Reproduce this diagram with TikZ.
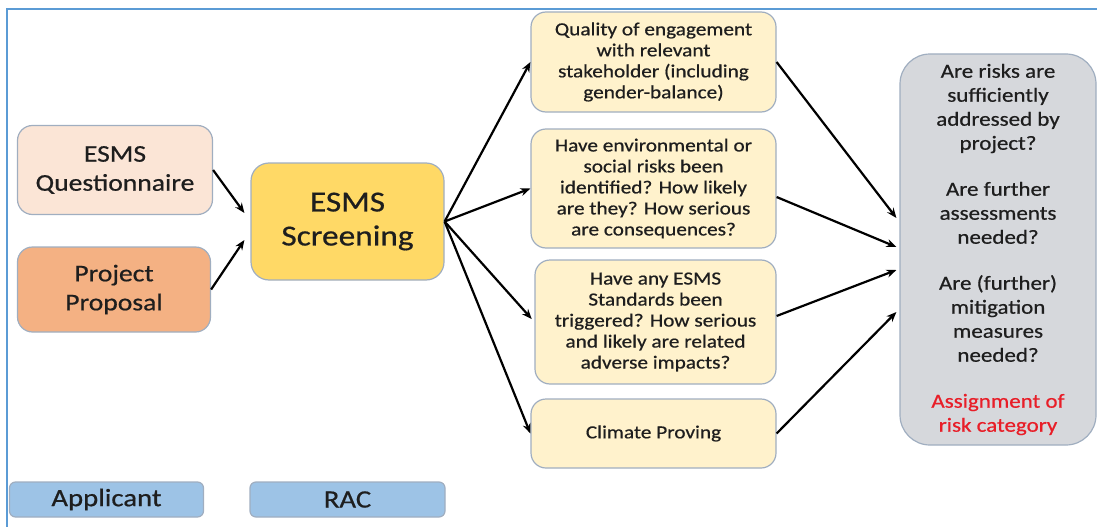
\documentclass[tikz,border=0pt]{standalone}
\usepackage{fontspec}
\setmainfont{Carlito}[FakeStretch=1.15,FakeBold=0.6]
\usetikzlibrary{arrows.meta}
\definecolor{frameblue}{RGB}{91,155,213}
\definecolor{edgegrey}{RGB}{160,174,192}
\definecolor{questfill}{RGB}{251,229,214}
\definecolor{propfill}{RGB}{244,177,131}
\definecolor{screenfill}{RGB}{255,217,102}
\definecolor{qfill}{RGB}{255,242,204}
\definecolor{greyfill}{RGB}{214,216,220}
\definecolor{rolefill}{RGB}{157,195,230}
\definecolor{txt}{RGB}{30,30,30}
\definecolor{riskred}{RGB}{232,30,40}

\begin{document}
\begin{tikzpicture}[x=1pt,y=-1pt,>={Stealth[length=10pt,width=8pt]},
  box/.style={draw=edgegrey,line width=1.2pt,rounded corners=15pt,align=center,text=txt},
  qbox/.style={box,fill=qfill,minimum width=245pt,font=\fontsize{18.5}{21}\selectfont},
  rolebox/.style={box,fill=rolefill,rounded corners=6pt,minimum width=194pt,minimum height=35pt,font=\fontsize{25}{28}\selectfont},
  flow/.style={->,line width=2.2pt,black}]

  \useasboundingbox (0,0) rectangle (1097,527);

  % Frame lines.
  \draw[frameblue,line width=2.5pt] (7,527) -- (7,9) -- (1097,9);

  % Inputs.
  \node[box,fill=questfill,minimum width=195pt,minimum height=89pt,font=\fontsize{24}{29}\selectfont] (quest) at (115,170) {ESMS\\Questionnaire};
  \node[box,fill=propfill,minimum width=193pt,minimum height=85pt,font=\fontsize{24}{29}\selectfont] (prop) at (114,289.5) {Project\\Proposal};
  \node[box,fill=screenfill,rounded corners=18pt,minimum width=193pt,minimum height=117pt,font=\fontsize{29}{34}\selectfont] (screen) at (347.5,221.5) {ESMS\\Screening};

  % Questions.
  \node[qbox,minimum height=100pt] (q1) at (653.5,62) {Quality of engagement\\with relevant\\stakeholder (including\\gender-balance)};
  \node[qbox,minimum height=119pt] (q2) at (653.5,188.5) {Have environmental or\\social risks been\\identified? How likely\\are they? How serious\\are consequences?};
  \node[qbox,minimum width=241pt,minimum height=124pt] (q3) at (655.5,322) {Have any ESMS\\Standards been\\triggered? How serious\\and likely are related\\adverse impacts?};
  \node[qbox,minimum height=69pt] (q4) at (653.5,433.5) {Climate Proving};

  % Outcome.
  \node[box,fill=greyfill,rounded corners=30pt,minimum width=196pt,minimum height=391pt,inner sep=2pt,font=\fontsize{20}{24}\selectfont] (out) at (998,249.5)
    {Are risks are\\sufficiently\\addressed by\\project?\\[22pt]Are further\\assessments\\needed?\\[22pt]Are (further)\\mitigation\\measures\\needed?\\[22pt]\textcolor{riskred}{Assignment of}\\\textcolor{riskred}{risk category}};

  % Roles.
  \node[rolebox] (applicant) at (106.5,499.5) {Applicant};
  \node[rolebox,minimum width=195pt] (rac) at (347.5,499.5) {RAC};

  % Arrows.
  \draw[flow] (quest.east) -- ([xshift=-6pt,yshift=8.5pt]screen.west);
  \draw[flow] (prop.east) -- ([xshift=-6pt,yshift=-18.5pt]screen.west);
  \draw[flow] (screen.east) -- (q1.west);
  \draw[flow] (screen.east) -- (q2.west);
  \draw[flow,shorten >=4pt] (screen.east) -- (q3.west);
  \draw[flow] (screen.east) -- (q4.west);
  \draw[flow] (q1.east) -- ([xshift=-3pt,yshift=31.5pt]out.west);
  \draw[flow] ([yshift=-8.5pt]q2.east) -- ([xshift=-3pt,yshift=2.5pt]out.west);
  \draw[flow] ([yshift=6pt]q3.east) -- ([xshift=-3pt,yshift=-20.5pt]out.west);
  \draw[flow] (q4.east) -- ([xshift=-3pt,yshift=-62.5pt]out.west);

\end{tikzpicture}
\end{document}
